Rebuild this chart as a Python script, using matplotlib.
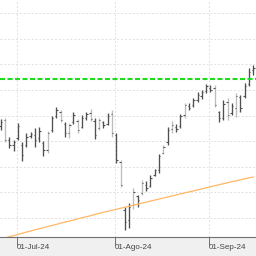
import numpy as np
import pandas as pd
import matplotlib
matplotlib.use('Agg')
import matplotlib.pyplot as plt
import matplotlib.transforms as mtransforms

# daily bars, 25-Jun-24 .. 16-Sep-24
dates = pd.bdate_range('2024-06-25', '2024-09-16')

opens = [135.9, 138.3, 130.5, 128.5, 131.3, 128.5, 128.5, 132.0, 132.4, 131.3,
         129.3, 126.6, 134.4, 139.8, 141.4, 136.7, 133.2, 137.5, 137.9, 135.5,
         139.1, 141.0, 137.9, 135.2, 137.5, 136.7, 140.6, 132.4, 121.9, 103.1,
         99.2, 105.1, 108.6, 109.8, 112.9, 112.5, 116.8, 118.8, 125.4, 129.7,
         134.8, 135.5, 135.9, 140.2, 143.7, 144.1, 146.1, 147.7, 149.6, 150.8,
         150.8, 141.4, 139.1, 145.3, 141.0, 143.0, 147.3, 147.7, 152.3, 157.8]
highs = [138.7, 139.1, 131.6, 130.5, 137.1, 129.7, 133.2, 133.6, 135.2, 135.5,
         130.1, 134.0, 139.8, 143.4, 142.2, 137.5, 137.1, 141.4, 138.7, 140.2,
         141.4, 142.6, 139.1, 139.1, 137.9, 141.0, 142.2, 133.2, 122.7, 104.3,
         105.9, 111.7, 109.0, 114.8, 114.5, 116.8, 119.1, 125.0, 128.5, 135.5,
         137.9, 136.7, 140.6, 144.9, 144.9, 146.9, 149.2, 150.0, 152.3, 152.0,
         152.0, 141.8, 146.1, 146.9, 144.9, 148.8, 148.0, 152.7, 158.6, 159.8]
lows = [134.4, 129.7, 127.3, 126.2, 130.5, 122.3, 127.7, 131.3, 127.7, 129.7,
        124.2, 125.4, 133.6, 139.1, 137.5, 131.6, 131.3, 136.7, 133.2, 135.2,
        138.3, 137.9, 130.9, 134.4, 135.2, 136.3, 131.6, 121.5, 112.1, 95.3,
        96.1, 103.5, 104.3, 109.0, 110.5, 112.1, 116.4, 117.6, 125.0, 128.5,
        133.2, 133.6, 135.2, 139.1, 142.2, 143.4, 145.3, 146.5, 148.8, 149.2,
        143.4, 137.5, 138.3, 138.3, 140.2, 139.5, 141.4, 146.9, 151.6, 155.9]
closes = [137.5, 130.5, 128.5, 129.7, 135.9, 124.6, 131.6, 132.8, 130.5, 134.0,
          126.6, 133.2, 139.1, 142.2, 138.3, 133.2, 136.3, 140.2, 134.4, 139.1,
          140.6, 138.7, 132.4, 138.3, 136.3, 139.8, 133.2, 122.7, 112.9, 98.4,
          104.3, 110.2, 107.0, 113.7, 111.7, 115.6, 118.8, 124.2, 127.7, 134.4,
          136.3, 134.8, 139.8, 144.1, 143.0, 146.1, 148.0, 149.2, 151.6, 150.0,
          144.1, 139.1, 144.5, 140.2, 143.7, 147.7, 143.0, 151.6, 157.0, 158.6]
# 1 = dark bar, 0 = light bar
shade = [1, 0, 1, 1, 1, 1, 1, 1, 1, 1, 1, 0, 1, 1, 0, 1, 0, 1, 0, 1,
         1, 0, 1, 0, 1, 1, 0, 1, 0, 1, 1, 0, 1, 0, 1, 1, 1, 1, 0, 1,
         0, 1, 1, 0, 1, 1, 1, 1, 1, 1, 0, 1, 1, 0, 1, 0, 1, 1, 1, 1]
# long moving average
mavg = [91.8, 92.2, 92.7, 93.1, 93.6, 94.0, 94.5, 94.9, 95.4, 95.8,
        96.2, 96.7, 97.1, 97.5, 98.0, 98.4, 98.8, 99.2, 99.7, 100.1,
        100.5, 100.9, 101.4, 101.8, 102.2, 102.6, 103.0, 103.4, 103.8, 104.2,
        104.6, 105.0, 105.4, 105.8, 106.2, 106.6, 107.0, 107.4, 107.8, 108.2,
        108.6, 109.0, 109.4, 109.8, 110.2, 110.6, 111.0, 111.4, 111.8, 112.2,
        112.6, 113.0, 113.4, 113.8, 114.2, 114.5, 114.9, 115.3, 115.7, 116.0]
resistance = 154.3
month_names = {7: 'Jul', 8: 'Ago', 9: 'Sep'}

x = np.arange(len(dates))
dark = '#505050'
light = '#bdbdbd'
cols = [dark if s else light for s in shade]

fig = plt.figure(figsize=(2.56, 2.56), dpi=100, facecolor='#f0f0f0')
ax = fig.add_axes([0, 19 / 256, 1, 237 / 256])
ax.set_facecolor('white')

ax.vlines(x, lows, highs, colors=cols, lw=0.95)
ax.hlines(opens, x - 0.32, x, colors='#505050', lw=0.8)
ax.hlines(closes, x, x + 0.32, colors='#505050', lw=0.8)

ax.plot(x, mavg, color='#ffb766', lw=0.9)
ax.axhline(resistance, color='#1fdc1f', lw=1.5, dashes=(2.4, 1.2))

# first trading day of each month
firsts = [i for i in range(1, len(dates)) if dates[i].month != dates[i - 1].month]
tpos = [i - 0.3 for i in firsts]
tlab = ['01-%s-24' % month_names[dates[i].month] for i in firsts]
ax.set_xticks(tpos)
ax.set_xticklabels(tlab, fontsize=5.8, color='#444444', family='Liberation Sans', ha='left')
off = mtransforms.ScaledTranslation(1.5 / 100, 0, fig.dpi_scale_trans)
for lb in ax.get_xticklabels():
    lb.set_transform(lb.get_transform() + off)
ax.tick_params(axis='x', length=6, width=0.7, color='#707070', pad=-1.2)
ax.set_yticks(np.arange(100, 190, 10))
ax.tick_params(axis='y', left=False, labelleft=False)

ax.grid(True, color='#e0e0e0', lw=0.7, linestyle=(0, (2, 2)))
ax.set_axisbelow(True)
for s in ['left', 'right', 'top']:
    ax.spines[s].set_visible(False)
ax.spines['bottom'].set_color('#707070')
ax.spines['bottom'].set_linewidth(0.8)

ax.set_xlim(-0.16, 59.65)
ax.set_ylim(185.16 - 237 / 2.56, 185.16)

fig.savefig('out.png', dpi=100, facecolor=fig.get_facecolor())
